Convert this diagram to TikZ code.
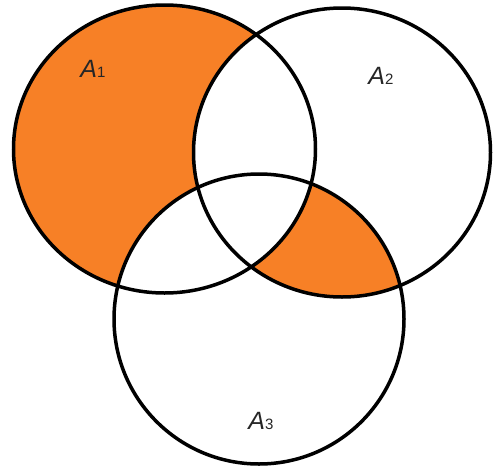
\documentclass[tikz,border=0pt]{standalone}
\usepackage{fontspec}
\setmainfont{Liberation Sans}
\definecolor{vorange}{RGB}{247,128,38}
\begin{document}
\begin{tikzpicture}[x=1pt,y=-1pt,
  setline/.style={line width=3.5pt,draw=black},
  setlabel/.style={font=\fontsize{25}{27}\selectfont, inner sep=0pt, text=black!85}]
\useasboundingbox (0,0) rectangle (493,469);
\def\cA{(164.5,149) ellipse [x radius=151, y radius=144]}
\def\cB{(342,152.5) ellipse [x radius=148.5, y radius=144.5]}
\def\cC{(259,319) ellipse [x radius=145, y radius=145]}
% A1 only
\fill[vorange] \cA;
% A2 and A3
\begin{scope}
  \clip \cB;
  \fill[vorange] \cC;
\end{scope}
% remove A1 intersections
\begin{scope}
  \clip \cA;
  \fill[white] \cB;
  \fill[white] \cC;
\end{scope}
\draw[setline] \cA;
\draw[setline] \cB;
\draw[setline] \cC;
\node[setlabel] (l1) at (93,69) {\textit{A}{\fontsize{15}{16}\selectfont\raisebox{-0.5pt}{1}}};
\node[setlabel] (l2) at (381,76) {\textit{A}{\fontsize{15}{16}\selectfont\raisebox{-0.5pt}{2}}};
\node[setlabel] (l3) at (261,421) {\textit{A}{\fontsize{15}{16}\selectfont\raisebox{-0.5pt}{3}}};
\end{tikzpicture}
\end{document}
